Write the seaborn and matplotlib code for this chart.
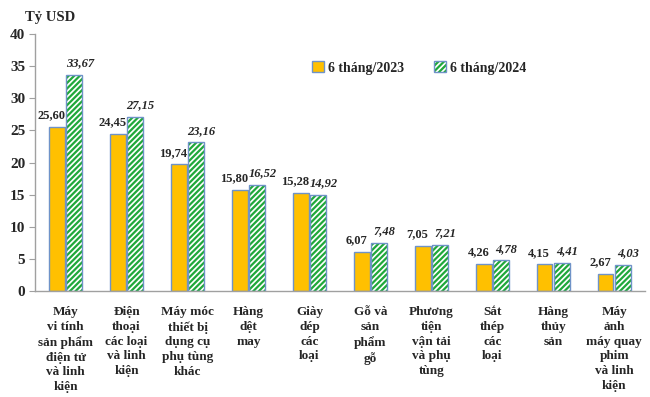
import matplotlib
matplotlib.use("Agg")
import matplotlib.pyplot as plt
import matplotlib.patches as mpatches
from matplotlib.legend_handler import HandlerTuple
import seaborn as sns
import pandas as pd
import numpy as np

categories = [
    "Máy\nvi tính\nsản phẩm\nđiện tử\nvà linh\nkiện",
    "Điện\nthoại\ncác loại\nvà linh\nkiện",
    "Máy móc\nthiết bị\ndụng cụ\nphụ tùng\nkhác",
    "Hàng\ndệt\nmay",
    "Giày\ndép\ncác\nloại",
    "Gỗ và\nsản\nphẩm\ngỗ",
    "Phương\ntiện\nvận tải\nvà phụ\ntùng",
    "Sắt\nthép\ncác\nloại",
    "Hàng\nthủy\nsản",
    "Máy\nảnh\nmáy quay\nphim\nvà linh\nkiện",
]
series_names = ["6 tháng/2023", "6 tháng/2024"]
values_2023 = [25.60, 24.45, 19.74, 15.80, 15.28, 6.07, 7.05, 4.26, 4.15, 2.67]
values_2024 = [33.67, 27.15, 23.16, 16.52, 14.92, 7.48, 7.21, 4.78, 4.41, 4.03]
y_ticks = [0, 5, 10, 15, 20, 25, 30, 35, 40]

ORANGE = "#FFC000"
GREEN = "#1FA83A"
EDGE = "#6F93C8"

sns.set_style("white")
plt.rcParams["font.family"] = ["Liberation Serif", "DejaVu Serif"]
plt.rcParams["font.weight"] = "bold"
plt.rcParams["hatch.linewidth"] = 1.6

df = pd.DataFrame({
    "cat": categories * 2,
    "series": [series_names[0]] * len(categories) + [series_names[1]] * len(categories),
    "value": values_2023 + values_2024,
})

fig = plt.figure(figsize=(6.5, 3.97), dpi=100)
ax = fig.add_axes([0.054, 0.267, 0.938, 0.647])

sns.barplot(data=df, x="cat", y="value", hue="series", order=categories,
            hue_order=series_names, palette=[ORANGE, "white"], width=0.56,
            gap=0.1, dodge=True, legend=False, ax=ax, saturation=1)

c23, c24 = ax.containers[0], ax.containers[1]
for p in c23.patches:
    p.set_edgecolor(EDGE)
    p.set_linewidth(1.0)
for p in c24.patches:
    p.set_facecolor("white")
    p.set_hatch("//////")
    p.set_edgecolor(GREEN)
    p.set_linewidth(0)
    ax.add_patch(mpatches.Rectangle(p.get_xy(), p.get_width(), p.get_height(),
                                    fill=False, edgecolor=EDGE, linewidth=1.0, zorder=p.get_zorder() + 0.1))

def fmt(v):
    return f"{v:.2f}".replace(".", ",")

for p, v in zip(c23.patches, values_2023):
    ax.annotate(fmt(v), (p.get_x() + p.get_width() / 2, v), xytext=(-4, 4),
                textcoords="offset points", ha="center", va="bottom",
                fontsize=9, fontweight="bold")
for p, v in zip(c24.patches, values_2024):
    ax.annotate(fmt(v), (p.get_x() + p.get_width() / 2, v), xytext=(4, 4),
                textcoords="offset points", ha="center", va="bottom",
                fontsize=9, fontweight="bold", fontstyle="italic")

ax.set_xlim(-0.5, len(categories) - 0.5)
ax.set_ylim(0, 40)
ax.set_yticks(y_ticks)
ax.set_yticklabels([str(t) for t in y_ticks], fontsize=11, fontweight="bold")
ax.set_xticks(np.arange(len(categories)))
ax.set_xticklabels(categories, fontsize=9.5, fontweight="bold", linespacing=1.3, va="top")
ax.set_xticks(np.arange(len(categories) + 1) - 0.5, minor=True)
ax.tick_params(axis="x", which="major", length=0, pad=11)
ax.tick_params(axis="x", which="minor", length=5, color="#A0A0A0", direction="out")
ax.tick_params(axis="y", length=4, color="#A0A0A0", direction="out", left=True, pad=3)
ax.set_xlabel("")
ax.set_ylabel("")
for s in ["top", "right"]:
    ax.spines[s].set_visible(False)
for s in ["left", "bottom"]:
    ax.spines[s].set_color("#A0A0A0")
    ax.spines[s].set_linewidth(1.0)

fig.text(0.038, 0.955, "Tỷ USD", fontsize=10.5, fontweight="bold", ha="left", va="center")

h23 = mpatches.Patch(facecolor=ORANGE, edgecolor=EDGE, linewidth=1.0)
h24_fill = mpatches.Patch(facecolor="white", edgecolor=GREEN, hatch="//////", linewidth=0)
h24_edge = mpatches.Patch(fill=False, edgecolor=EDGE, linewidth=1.0)
ax.legend([h23, (h24_fill, h24_edge)], series_names,
          handler_map={tuple: HandlerTuple(ndivide=1, pad=0)},
          loc="center", bbox_to_anchor=(0.63, 0.868), ncol=2, frameon=False,
          handlelength=0.8, handleheight=0.8, columnspacing=2.2, handletextpad=0.3,
          prop={"size": 10, "weight": "bold"})

fig.savefig("out.png", dpi=100)
